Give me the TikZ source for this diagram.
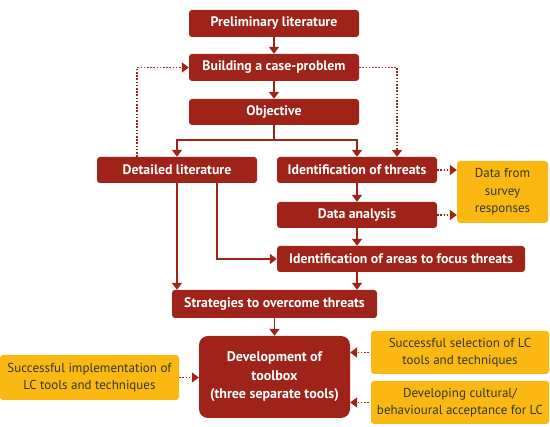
\documentclass[tikz,border=0pt]{standalone}
\usepackage{fontspec}
\setmainfont{PT Sans}
\usetikzlibrary{arrows.meta,calc}
\definecolor{boxred}{HTML}{A0231A}
\definecolor{boxyel}{HTML}{FBB813}
\definecolor{yeltext}{HTML}{2E3A1C}
\begin{document}
\begin{tikzpicture}[x=1pt,y=-1pt,
  redbox/.style={fill=boxred,draw=none,rounded corners=3pt,text=white,font=\fontsize{13.8}{15}\selectfont\bfseries,inner sep=0pt,align=center},
  yelbox/.style={fill=boxyel,draw=none,rounded corners=3pt,text=yeltext,font=\fontsize{13}{16.5}\selectfont,inner sep=0pt,align=center},
  solidarr/.style={draw=boxred,line width=1.8pt,-{Triangle[width=10pt,length=7pt]}},
  solidln/.style={draw=boxred,line width=1.8pt},
  dotarr/.style={draw=boxred,line width=1.6pt,dash pattern=on 1.6pt off 1.6pt,-{Triangle[width=10pt,length=7pt]}}
]
\useasboundingbox (0,0) rectangle (550,427);
\node[redbox,minimum width=170pt,minimum height=27pt] (prelim) at (274,23.5) {Preliminary literature};
\node[redbox,minimum width=170pt,minimum height=27pt] (build) at (274,67.5) {Building a case-problem};
\node[redbox,minimum width=170pt,minimum height=26pt] (obj) at (274,112) {Objective};
\node[redbox,minimum width=160pt,minimum height=26pt] (detail) at (177,170) {Detailed literature};
\node[redbox,minimum width=160pt,minimum height=26pt] (idthr) at (357,170) {Identification of threats};
\node[yelbox,minimum width=91pt,minimum height=62pt,font=\fontsize{13}{17.5}\selectfont] (survey) at (502.5,192) {Data from\\survey\\responses};
\node[redbox,minimum width=160pt,minimum height=26pt] (data) at (357,215) {Data analysis};
\node[redbox,minimum width=248pt,minimum height=26pt] (areas) at (401,259) {Identification of areas to focus threats};
\node[redbox,minimum width=205pt,minimum height=28pt] (strat) at (274.5,304) {Strategies to overcome threats};
\node[redbox,minimum width=151pt,minimum height=82pt,rounded corners=9pt,font=\fontsize{14}{18.5}\selectfont\bfseries] (dev) at (274.5,377) {Development of\\toolbox\\(three separate tools)};
\node[yelbox,minimum width=179pt,minimum height=45pt] (ly) at (89.5,377.5) {Successful implementation of\\LC tools and techniques};
\node[yelbox,minimum width=178pt,minimum height=43pt] (ry1) at (460,352.5) {Successful selection of LC\\tools and techniques};
\node[yelbox,minimum width=178pt,minimum height=43pt] (ry2) at (460,402.5) {Developing cultural/\\behavioural acceptance for LC};
% main flow
\draw[solidarr] (prelim.south) -- (build.north);
\draw[solidarr] (build.south) -- (obj.north);
\coordinate (split) at ($(obj.south)+(0,15)$);
\draw[solidln] (obj.south) -- (split);
\draw[solidarr] (split) -| (detail.north);
\draw[solidarr] (split) -| (idthr.north);
\draw[solidarr] (idthr.south) -- (data.north);
\draw[solidarr] (data.south) -- (data.south |- areas.north);
\draw[solidarr] ([xshift=40pt]detail.south) |- (areas.west);
\draw[solidarr] (detail.south) -- (detail.south |- strat.north);
\draw[solidarr] (data.south |- areas.south) -- (data.south |- strat.north);
\draw[solidarr] (strat.south) -- (dev.north);
% dotted feedback
\draw[dotarr] ([xshift=-40pt]detail.north) |- (build.west);
\draw[dotarr] (build.east) -| ([xshift=40pt]idthr.north);
\draw[dotarr] (idthr.east) -- (idthr.east -| survey.west);
\draw[dotarr] (data.east) -- (data.east -| survey.west);
\draw[dotarr] (ly.east) -- (ly.east -| dev.west);
\draw[dotarr] ([xshift=-2pt]ry1.west) -- (ry1.west -| dev.east);
\draw[dotarr] ([xshift=-2pt]ry2.west) -- (ry2.west -| dev.east);
\end{tikzpicture}
\end{document}
